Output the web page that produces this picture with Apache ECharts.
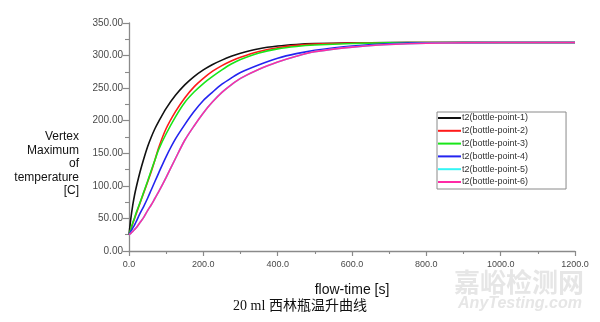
<!DOCTYPE html>
<html>
<head>
<meta charset="utf-8">
<script src="https://cdn.jsdelivr.net/npm/echarts@6/dist/echarts.min.js"></script>
<style>
html,body{margin:0;padding:0;background:#fff;}
#c{width:600px;height:322px;}
</style>
</head>
<body>
<div id="c"></div>
<script>
// flow-time [s]
var times = [0,5,10,15,20,30,40,50,60,70,80,100,125,150,175,200,225,250,275,300,350,400,450,500,600,700,800,1000,1200];
// Vertex Maximum of temperature [C]
var point1 = [25,50,70,86,99,122,142,160,175,188,199,219,239,255,267.7,278,286.3,293,298.8,303.6,310.5,314.6,317,318.3,319.5,319.8,320,320,320];
var point2 = [25,33,42,50,58,74,90,106,122,140,159,188,214,235,252,265,276,284.6,291.7,297.6,306.4,312.1,315.6,317.5,319.2,319.7,320,320,320];
var point3 = [25,34,43,51,60,75,91,107,124,140,156,180,206,228,244,257,268,278,287,294,304,310.3,314,316.2,318.5,319.5,320,320,320];
var point4 = [25,30,35,40,46,58,69,81,94,107,120,145,172,194,214,231,244,256,265.5,274,286,296,303,308,314.5,318,319.5,320,320];
var point5 = [25,27,30,33,36,44,52,62,71,81,91,113,142,170,192,212,229,243.5,255,265,279,290,299,306,313,317,319,320,320];
var point6 = [25,27,30,33,36,44,52,62,71,81,91,113,142,170,192,212,229,243.5,255,265,279,290,299,306,313,317,319,320,320];

var seriesNames = ['t2(bottle-point-1)','t2(bottle-point-2)','t2(bottle-point-3)','t2(bottle-point-4)','t2(bottle-point-5)','t2(bottle-point-6)'];
var seriesColors = ['#111111','#ff1a1a','#19e619','#2424f0','#33f5f5','#ff2aa6'];
var seriesValues = [point1,point2,point3,point4,point5,point6];

var yTickValues = [0,50,100,150,200,250,300,350];
var yTickLabels = ['0.00','50.00','100.00','150.00','200.00','250.00','300.00','350.00'];
var xTickValues = [0,200,400,600,800,1000,1200];
var xTickLabels = ['0.0','200.0','400.0','600.0','800.0','1000.0','1200.0'];

var yTitle = 'Vertex\nMaximum\nof\ntemperature\n[C]';
var xTitle = 'flow-time [s]';
var caption = '20 ml 西林瓶温升曲线';

function pairs(vals){
  return times.map(function(t,i){return [t, vals[i]];});
}

var chart = echarts.init(document.getElementById('c'), null, {renderer:'canvas'});
var axisColor = '#8a8a8a';
var option = {
  animation:false,
  backgroundColor:'#ffffff',
  grid:{left:129, right:25, top:23, bottom:71, containLabel:false},
  xAxis:{
    type:'value', min:0, max:1200, interval:200,
    axisLine:{show:true, lineStyle:{color:axisColor, width:1.3}},
    axisTick:{show:true, length:5, lineStyle:{color:axisColor, width:1.2}},
    minorTick:{show:true, splitNumber:2, length:3, lineStyle:{color:axisColor, width:1.1}},
    splitLine:{show:false},
    axisLabel:{fontSize:9, color:'#4a4a4a', fontFamily:'Liberation Sans', margin:9,
      formatter:function(v){var i=xTickValues.indexOf(v);return i>=0?xTickLabels[i]:'';}},
    name:xTitle, nameLocation:'middle', nameGap:32,
    nameTextStyle:{fontSize:14, color:'#111', fontFamily:'Liberation Sans'}
  },
  yAxis:{
    type:'value', min:0, max:350, interval:50,
    axisLine:{show:true, lineStyle:{color:axisColor, width:1.3}},
    axisTick:{show:true, length:6, lineStyle:{color:axisColor, width:1.2}},
    minorTick:{show:true, splitNumber:2, length:4, lineStyle:{color:axisColor, width:1.1}},
    splitLine:{show:false},
    axisLabel:{fontSize:10, color:'#4a4a4a', fontFamily:'Liberation Sans', margin:6,
      formatter:function(v){var i=yTickValues.indexOf(v);return i>=0?yTickLabels[i]:'';}}
  },
  legend:{
    orient:'vertical', left:437, top:112,
    data:seriesNames,
    icon:'rect', itemWidth:23, itemHeight:2, itemGap:2.8,
    padding:[1,38,2,1],
    borderColor:'#8a8a8a', borderWidth:1,
    textStyle:{fontSize:9, lineHeight:10, color:'#333', fontFamily:'Liberation Sans', padding:[0,0,0,-4]}
  },
  graphic:[
    {type:'text', x:79, y:164, style:{text:yTitle, align:'right', verticalAlign:'middle',
      font:'12px "Liberation Sans", Arial', lineHeight:13.5, fill:'#111'}},
    {type:'text', x:300, y:306, style:{text:caption, align:'center', verticalAlign:'middle',
      font:'14px "Liberation Serif", "Noto Sans CJK SC"', fill:'#111'}},
    {type:'text', x:519, y:282, z:-1, style:{text:'嘉峪检测网', align:'center', verticalAlign:'middle',
      font:'bold 26px "Noto Sans CJK SC"', fill:'#e6e6e6'}},
    {type:'text', x:520, y:304, z:-1, style:{text:'AnyTesting.com', align:'center', verticalAlign:'middle',
      font:'italic bold 16px "Liberation Sans"', fill:'#e6e6e6'}}
  ],
  series: seriesNames.map(function(n,i){
    return {
      name:n, type:'line', data:pairs(seriesValues[i]),
      showSymbol:false, symbol:'none', smooth:0.3,
      lineStyle:{color:seriesColors[i], width:1.6},
      itemStyle:{color:seriesColors[i]},
      z:2+i
    };
  })
};
chart.setOption(option);
</script>
</body>
</html>
